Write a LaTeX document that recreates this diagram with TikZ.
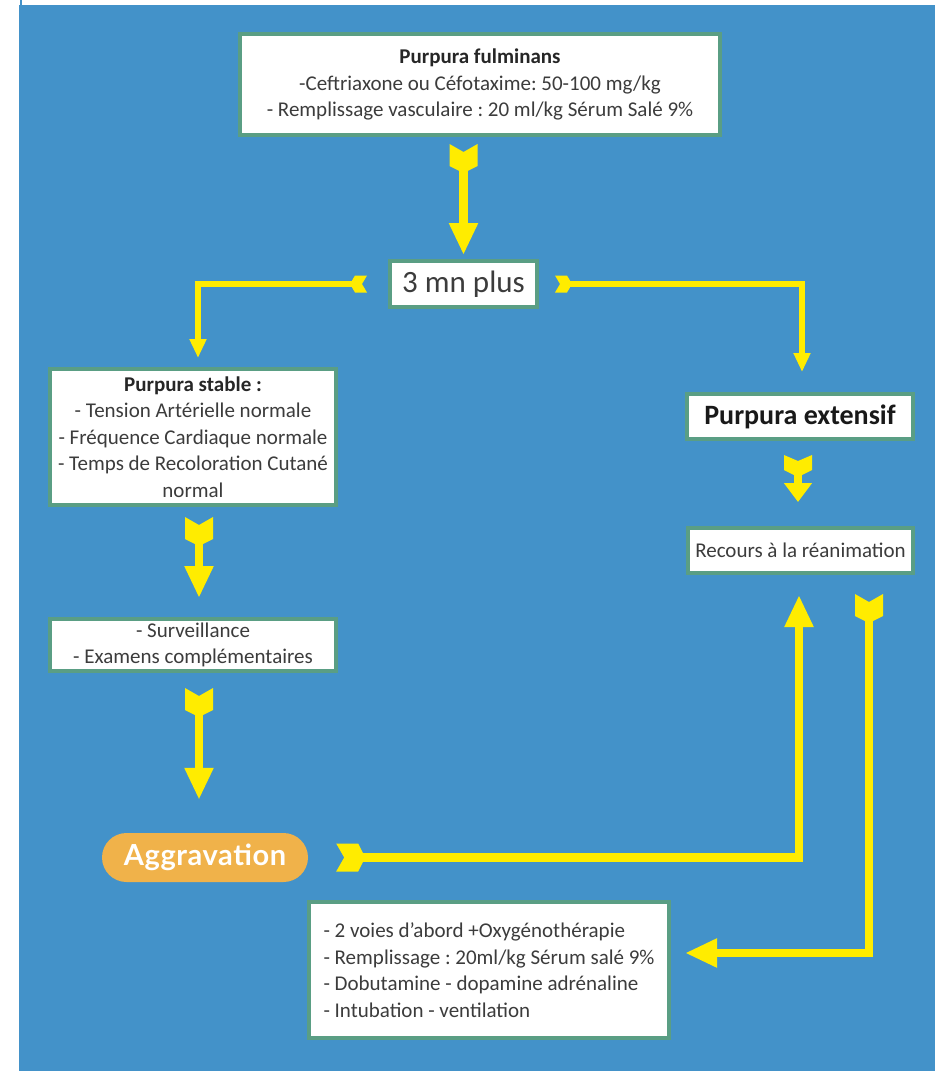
\documentclass[tikz,border=0pt]{standalone}
\usepackage{fontspec}
\setmainfont{Carlito}
\newfontfamily\aggfont{Lato}[LetterSpace=2]
\usetikzlibrary{arrows.meta,calc}
\definecolor{bgblue}{HTML}{4392C9}
\definecolor{boxgreen}{HTML}{5A9E84}
\definecolor{ayellow}{HTML}{FFEC00}
\definecolor{aorange}{HTML}{F0B24A}
\definecolor{txt}{HTML}{3C3C3C}
\tikzset{
  pics/bigfletch/.style={code={\fill[ayellow] (0,-14) -- (8,0) -- (0,14) -- (22,14) -- (29,0) -- (22,-14) -- cycle;}},
  pics/midfletch/.style={code={\fill[ayellow] (0,-14) -- (6,0) -- (0,14) -- (15,14) -- (22,0) -- (15,-14) -- cycle;}},
  pics/smallfletch/.style={code={\fill[ayellow] (0,-8.5) -- (5,0) -- (0,8.5) -- (12,8.5) -- (17,0) -- (12,-8.5) -- cycle;}},
  box/.style={draw=boxgreen,line width=4pt,fill=white,inner sep=0pt,text=txt,
    font=\fontsize{21}{26.5}\selectfont,align=center},
  thickarrow/.style={draw=ayellow,line width=8.5pt,-{Triangle[length=32pt,width=27pt]}},
  midarrow/.style={draw=ayellow,line width=8.5pt,-{Triangle[length=19pt,width=27pt]}},
  thinarrow/.style={draw=ayellow,line width=5.5pt,-{Triangle[length=19pt,width=16pt]}}
}
\begin{document}
\frenchspacing
\begin{tikzpicture}[x=1pt,y=-1pt]
\useasboundingbox (0,0) rectangle (935,1071);
\fill[white] (0,0) rectangle (935,1071);
\fill[bgblue] (19,5) rectangle (935,1071);
\draw[bgblue,line width=2pt] (21,0) -- (21,5);

% nodes
\node[box,minimum width=480pt,minimum height=101pt] (fulm) at (480,84.5)
  {{\bfseries\color{black!85}Purpura fulminans}\\-Ceftriaxone ou Céfotaxime: 50-100 mg/kg\\- Remplissage vasculaire : 20 ml/kg Sérum Salé 9\%};
\node[box,minimum width=147pt,minimum height=46pt,font=\fontsize{31}{31}\selectfont] (plus) at (463.5,284) {3 mn plus};
\node[box,minimum width=286pt,minimum height=136pt] (stable) at (193,437)
  {{\bfseries\color{black!85}Purpura stable :}\\- Tension Artérielle normale\\- Fréquence Cardiaque normale\\- Temps de Recoloration Cutané\\normal};
\node[box,minimum width=226pt,minimum height=45pt,text=black!90,font=\bfseries\fontsize{28}{28}\selectfont] (ext) at (800,416.5) {Purpura extensif};
\node[box,minimum width=225pt,minimum height=45pt] (rea) at (800.5,550.5) {Recours à la réanimation};
\node[box,minimum width=286pt,minimum height=52pt] (surv) at (193,645)
  {- Surveillance\\- Examens complémentaires};
\node[fill=aorange,rounded corners=24.5pt,minimum width=206pt,minimum height=49pt,inner sep=0pt,
  text=white,font=\aggfont\bfseries\fontsize{29}{29}\selectfont] (aggr) at (205,857.5) {Aggravation};
\node[box,minimum width=360pt,minimum height=136pt,align=left] (bot) at (489,970)
  {- 2 voies d’abord +Oxygénothérapie\\- Remplissage : 20ml/kg Sérum salé 9\%\\- Dobutamine - dopamine adrénaline\\- Intubation - ventilation};

% connectors
\draw[thickarrow,shorten <=17pt,shorten >=4pt] (fulm.south -| plus.north) -- (plus.north);
\pic[rotate=-90] at ($(fulm.south -| plus.north)+(0,7)$) {bigfletch};

\draw[thinarrow,shorten <=28pt,shorten >=9pt] (plus.west) -| ($(stable.north)+(5,0)$);
\pic[rotate=180] at ($(plus.west)+(-21,0)$) {smallfletch};

\draw[thinarrow,shorten <=23pt,shorten >=20pt] (plus.east) -| ($(ext.north)+(2,0)$);
\pic at ($(plus.east)+(16,0)$) {smallfletch};

\draw[midarrow,shorten <=22pt,shorten >=24pt] ($(ext.south)+(-2,0)$) -- ($(rea.north)+(-2.5,0)$);
\pic[rotate=-90] at ($(ext.south)+(-2,14)$) {midfletch};

\draw[thickarrow,shorten <=20pt,shorten >=19pt] ($(stable.south)+(6,0)$) -- ($(surv.north)+(6,0)$);
\pic[rotate=-90] at ($(stable.south)+(6,10)$) {bigfletch};

\draw[thickarrow,shorten <=25pt,shorten >=33pt] ($(surv.south)+(6,0)$) -- ($(aggr.north)+(-6,0)$);
\pic[rotate=-90] at ($(surv.south)+(6,15)$) {bigfletch};

\draw[thickarrow,shorten <=38pt,shorten >=20pt] (aggr.east) -| ($(rea.south)+(-1.5,0)$);
\pic at ($(aggr.east)+(28,0)$) {bigfletch};

\draw[thickarrow,shorten <=29pt,shorten >=14pt] ($(rea.south)+(68.5,0)$) |- ($(bot.east)+(0,-17)$);
\pic[rotate=-90] at ($(rea.south)+(68.5,19)$) {bigfletch};
\end{tikzpicture}
\end{document}
